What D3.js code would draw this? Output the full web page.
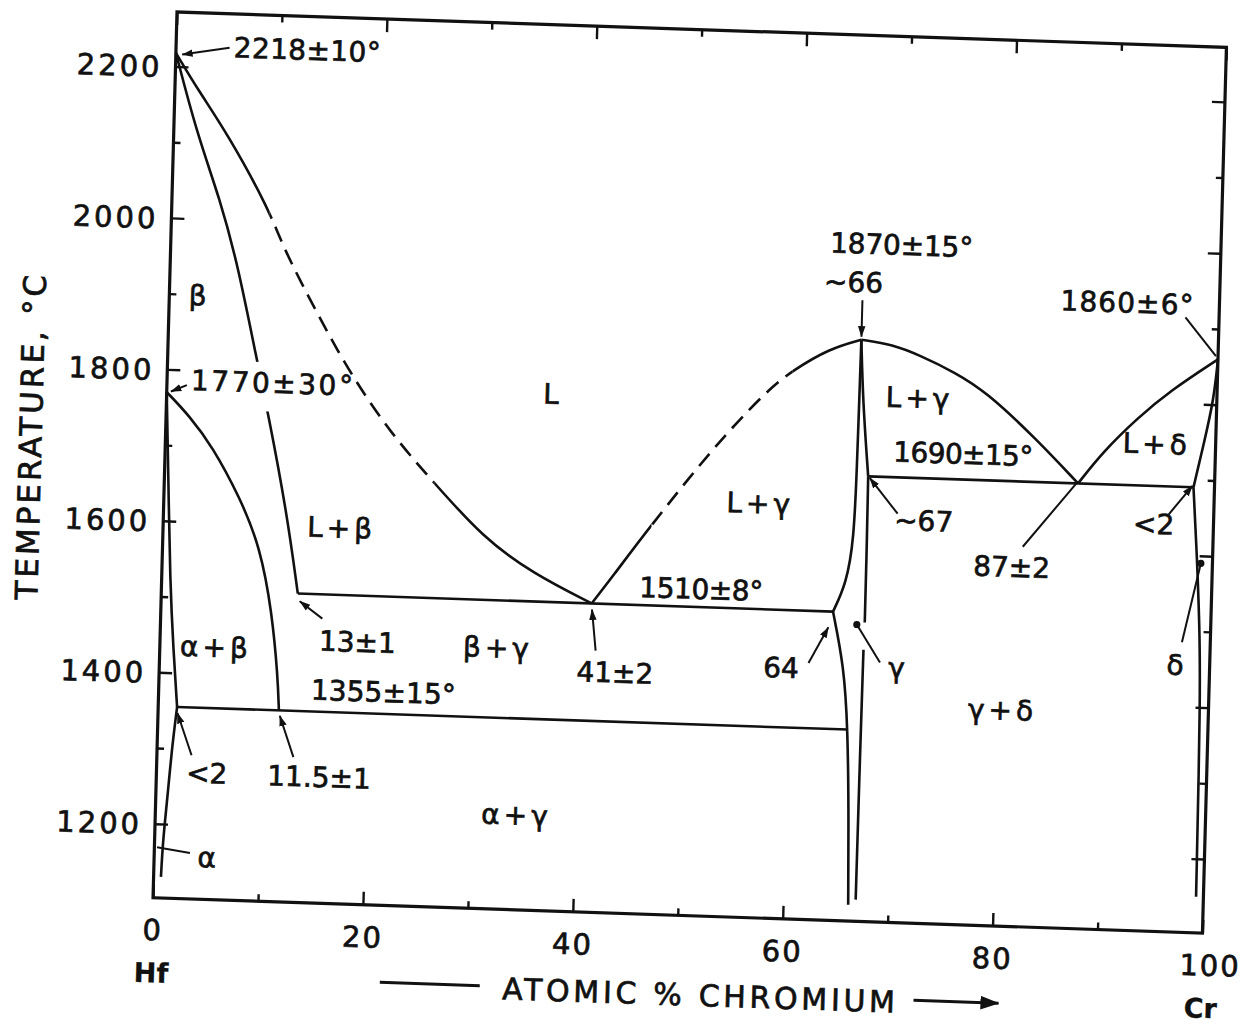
<!DOCTYPE html>
<html>
<head>
<meta charset="utf-8">
<script src="https://cdn.jsdelivr.net/npm/d3@7"></script>
<style>
  html, body { margin: 0; padding: 0; background: #fff; }
  svg { display: block; }
  text { font-family: "DejaVu Sans", "Liberation Sans", sans-serif; fill: #111; stroke: #111; stroke-width: 0.7px; }
</style>
</head>
<body>
<svg id="chart" width="1252" height="1026"></svg>
<script>
// ---------------- Hf–Cr phase diagram ----------------
// axis ticks
const compTicks = [0, 20, 40, 60, 80, 100];
const compMinorTicks = [10, 30, 50, 70, 90];
const tempTicks = [1200, 1400, 1600, 1800, 2000, 2200];
const tempMinorTicks = [1300, 1500, 1700, 1900, 2100];
const endMembers = [{ name: "Hf", c: 0 }, { name: "Cr", c: 100 }];

// phase boundaries as [atomic % Cr, temperature °C]
const liquidusHf = [[0, 2218], [2.3, 2168], [5.1, 2114], [9.3, 2015], [10.7, 1966], [14.1, 1881],
  [17.4, 1803], [21.4, 1726], [25.7, 1662], [30.5, 1592], [35.3, 1547], [41, 1510]];
const liquidusGammaLeft = [[41, 1510], [42.9, 1546], [46.1, 1609], [52.1, 1720], [57.1, 1798],
  [59.5, 1826], [63, 1857], [66, 1870]];
const liquidusGammaRight = [[66, 1870], [69, 1865], [71.6, 1852], [75, 1831], [78, 1807],
  [82.9, 1747], [87, 1690]];
const liquidusCr = [[87, 1690], [89.3, 1733], [92.5, 1779], [95.5, 1816], [100, 1860]];
const solidusBeta = [[0, 2218], [2.2, 2113], [4.6, 2026], [6.5, 1938], [8.5, 1816], [9.7, 1747],
  [11.75, 1616], [13, 1510]];
const betaTransus = [[0, 1770], [2.2, 1740], [4.5, 1700], [7.2, 1635], [9.3, 1570], [10.6, 1483],
  [11.3, 1400], [11.5, 1355]];
const alphaBetaBoundary = [[0, 1770], [0.4, 1650], [0.8, 1522], [1.3, 1430], [1.8, 1355]];
const alphaSolvus = [[1.8, 1355], [1.4, 1298], [1.1, 1232], [0.8, 1179], [0.7, 1130]];
const gammaSolidusLeft = [[66, 1870], [65.95, 1780], [65.9, 1700], [65.8, 1605], [65.2, 1548], [64, 1510]];
const gammaSolvusLeft = [[64, 1510], [65.2, 1437], [65.7, 1355], [66.0, 1250], [66.2, 1124]];
const gammaSolidusRight = [[66, 1870], [66.3, 1790], [67, 1690]];
const gammaSolvusRightUpper = [[67, 1690], [67.05, 1600], [67.05, 1497]];
const gammaSolvusRightLower = [[67.0, 1461], [66.95, 1350], [66.9, 1131]];
const deltaSolidus = [[100, 1860], [99.7, 1806], [98.9, 1750], [98, 1690]];
const deltaSolvus = [[98, 1690], [98.5, 1600], [98.9, 1515], [99.2, 1420], [99.3, 1150]];

// invariant (tie) lines
const tieLines = [
  [[1.8, 1355], [65.7, 1355]],
  [[13, 1510], [64, 1510]],
  [[67, 1690], [98, 1690]]
];

// composition ranges where the liquidus is only estimated (dashed)
const liquidusHfDashed = [[9.3, 25.7]];
const liquidusGammaDashed = [[46.5, 59.5]];
// temperature band where the β solidus is interrupted by its label
const solidusBetaBreak = [1749, 1814];

// ---------------- layout ----------------
const W = 1050, H = 886;
const x = d3.scaleLinear().domain([0, 100]).range([0, W]);
const y = d3.scaleLinear().domain([1200, 2200]).range([812, 54.5]);

const svg = d3.select("#chart");
const defs = svg.append("defs");

defs.append("marker").attr("id", "arrow")
  .attr("viewBox", "0 0 10 10").attr("refX", 9.5).attr("refY", 5)
  .attr("markerWidth", 11).attr("markerHeight", 11)
  .attr("markerUnits", "userSpaceOnUse").attr("orient", "auto")
  .append("path").attr("d", "M0,1.6 L10,5 L0,8.4 Z").attr("fill", "#111");

defs.append("marker").attr("id", "arrowBig")
  .attr("viewBox", "0 0 10 10").attr("refX", 9.5).attr("refY", 5)
  .attr("markerWidth", 19).attr("markerHeight", 19)
  .attr("markerUnits", "userSpaceOnUse").attr("orient", "auto")
  .append("path").attr("d", "M0,1.4 L10,5 L0,8.6 Z").attr("fill", "#111");

// the plot is slightly skewed on the sheet
const g = svg.append("g")
  .attr("transform", "matrix(0.99943,0.03368,-0.02705,0.99963,177,12)");

const line = d3.line()
  .x(d => x(d[0])).y(d => y(d[1]))
  .curve(d3.curveBasis);

const ink = "#111";
const lw = 2.6;

// ---------------- axes ----------------
function styleAxis(sel) {
  sel.select(".domain").remove();
  sel.selectAll(".tick line").attr("stroke", ink).attr("stroke-width", 2.4);
}

const axisLeftMajor = g.append("g")
  .call(d3.axisLeft(y).tickValues(tempTicks).tickSize(-13).tickPadding(13).tickFormat(d3.format("d")))
  .call(styleAxis);
axisLeftMajor.attr("font-size", 29).attr("font-family", null);
axisLeftMajor.selectAll("text").attr("dy", "0.36em").attr("letter-spacing", 3);

g.append("g").call(d3.axisLeft(y).tickValues(tempMinorTicks).tickSize(-7).tickFormat("")).call(styleAxis);
g.append("g").attr("transform", `translate(${W},0)`)
  .call(d3.axisRight(y).tickValues(tempTicks).tickSize(-13).tickFormat("")).call(styleAxis);
g.append("g").attr("transform", `translate(${W},0)`)
  .call(d3.axisRight(y).tickValues(tempMinorTicks).tickSize(-7).tickFormat("")).call(styleAxis);

const axisBottomMajor = g.append("g").attr("transform", `translate(0,${H})`)
  .call(d3.axisBottom(x).tickValues(compTicks).tickSize(-13).tickPadding(0).tickFormat(d3.format("d")))
  .call(styleAxis);
axisBottomMajor.attr("font-size", 29).attr("font-family", null);
axisBottomMajor.selectAll("text").attr("y", 32).attr("dy", "0.36em").attr("letter-spacing", 2)
  .attr("dx", d => d === 100 ? 8 : 0);

g.append("g").attr("transform", `translate(0,${H})`)
  .call(d3.axisBottom(x).tickValues(compMinorTicks).tickSize(-7).tickFormat("")).call(styleAxis);
g.append("g")
  .call(d3.axisTop(x).tickValues(compTicks).tickSize(-13).tickFormat("")).call(styleAxis);
g.append("g")
  .call(d3.axisTop(x).tickValues(compMinorTicks).tickSize(-7).tickFormat("")).call(styleAxis);

// frame
g.append("rect").attr("x", 0).attr("y", 0).attr("width", W).attr("height", H)
  .attr("fill", "none").attr("stroke", ink).attr("stroke-width", 3.2);

// end-member names under the axis
g.selectAll(".end").data(endMembers).enter().append("text")
  .attr("x", d => x(d.c)).attr("y", 961).attr("dy", "0.36em")
  .attr("text-anchor", "middle").attr("font-size", 27).attr("font-weight", "bold")
  .style("stroke-width", "0.3px")
  .text(d => d.name);

// axis titles
g.append("text")
  .attr("transform", "translate(-135,430) rotate(-90)")
  .attr("text-anchor", "middle").attr("dy", "0.36em")
  .attr("font-size", 31).attr("textLength", 325).attr("lengthAdjust", "spacing")
  .text("TEMPERATURE, °C");

g.append("text")
  .attr("x", 548).attr("y", 965).attr("dy", "0.36em").attr("text-anchor", "middle")
  .attr("font-size", 30).attr("textLength", 393).attr("lengthAdjust", "spacing")
  .text("ATOMIC % CHROMIUM");
g.append("line").attr("x1", 229).attr("x2", 329).attr("y1", 963).attr("y2", 963)
  .attr("stroke", ink).attr("stroke-width", 3);
g.append("line").attr("x1", 763).attr("x2", 848).attr("y1", 963).attr("y2", 963)
  .attr("stroke", ink).attr("stroke-width", 3).attr("marker-end", "url(#arrowBig)");

// ---------------- phase boundaries ----------------
const lines = g.append("g").attr("fill", "none").attr("stroke", ink)
  .attr("stroke-width", lw).attr("stroke-linejoin", "round");

let clipId = 0;
function clipX(ranges) {
  const id = "clip" + (clipId++);
  const cp = defs.append("clipPath").attr("id", id);
  ranges.forEach(r => cp.append("rect")
    .attr("x", x(r[0])).attr("width", x(r[1]) - x(r[0]))
    .attr("y", -50).attr("height", H + 100));
  return "url(#" + id + ")";
}
function clipOutsideT(band) {
  const id = "clip" + (clipId++);
  const cp = defs.append("clipPath").attr("id", id);
  cp.append("rect").attr("x", -50).attr("width", W + 100)
    .attr("y", -50).attr("height", y(band[1]) + 50);
  cp.append("rect").attr("x", -50).attr("width", W + 100)
    .attr("y", y(band[0])).attr("height", H + 50 - y(band[0]));
  return "url(#" + id + ")";
}

// a curve that is solid except over the given composition ranges, where it is dashed
function partlyDashed(data, dashed) {
  const solidRanges = [];
  let start = -10;
  dashed.forEach(r => { solidRanges.push([start, r[0]]); start = r[1]; });
  solidRanges.push([start, 110]);
  lines.append("path").attr("d", line(data)).attr("clip-path", clipX(solidRanges));
  lines.append("path").attr("d", line(data)).attr("clip-path", clipX(dashed))
    .attr("stroke-dasharray", "16,9");
}

partlyDashed(liquidusHf, liquidusHfDashed);
partlyDashed(liquidusGammaLeft, liquidusGammaDashed);

lines.append("path").attr("d", line(solidusBeta)).attr("clip-path", clipOutsideT(solidusBetaBreak));

[liquidusGammaRight, liquidusCr, betaTransus, alphaBetaBoundary, alphaSolvus,
  gammaSolidusLeft, gammaSolvusLeft, gammaSolidusRight, gammaSolvusRightUpper,
  gammaSolvusRightLower, deltaSolidus, deltaSolvus]
  .forEach(d => lines.append("path").attr("d", line(d)));

tieLines.forEach(d => lines.append("path").attr("d", d3.line().x(p => x(p[0])).y(p => y(p[1]))(d)));

// ---------------- annotations ----------------
const leaders = [
  { from: [5.1, 2227], to: [0.6, 2216], arrow: true },
  { from: [1.9, 1780], to: [0.4, 1771], arrow: true },
  { from: [15.4, 1478], to: [13.2, 1500], arrow: true },
  { from: [41.5, 1448], to: [41.05, 1502], arrow: true },
  { from: [61.8, 1441], to: [63.6, 1489], arrow: true },
  { from: [68.6, 1445], to: [66.3, 1494], dot: true },
  { from: [13.0, 1294], to: [11.6, 1348], arrow: true },
  { from: [3.3, 1292], to: [1.85, 1347], arrow: true },
  { from: [3.4, 1163], to: [0.25, 1169] },
  { from: [66, 1922], to: [66, 1874], arrow: true },
  { from: [96.8, 1914], to: [99.8, 1864] },
  { from: [69.9, 1642], to: [67.15, 1688], arrow: true },
  { from: [81.9, 1604], to: [86.9, 1691] },
  { from: [95.7, 1653], to: [97.9, 1692], arrow: true },
  { from: [97.3, 1485], to: [98.9, 1590], dot: true }
];

const lead = g.append("g").attr("stroke", ink).attr("stroke-width", 2);
leaders.forEach(l => {
  const ln = lead.append("line")
    .attr("x1", x(l.from[0])).attr("y1", y(l.from[1]))
    .attr("x2", x(l.to[0])).attr("y2", y(l.to[1]));
  if (l.arrow) ln.attr("marker-end", "url(#arrow)");
  if (l.dot) lead.append("circle").attr("cx", x(l.to[0])).attr("cy", y(l.to[1]))
    .attr("r", 3.6).attr("fill", ink).attr("stroke", "none");
});

// value labels; the longer ones are set to their lettered widths
const valueLabels = [
  { text: "2218±10°", c: 12.5, t: 2228, w: 147 },
  { text: "1770±30°", c: 10.0, t: 1787, w: 162 },
  { text: "13±1", c: 18.8, t: 1449 },
  { text: "1355±15°", c: 21.4, t: 1384, w: 145 },
  { text: "<2", c: 4.8, t: 1269 },
  { text: "11.5±1", c: 15.5, t: 1269 },
  { text: "1510±8°", c: 51.4, t: 1534, w: 124 },
  { text: "41±2", c: 43.4, t: 1420 },
  { text: "64", c: 59.2, t: 1434 },
  { text: "1870±15°", c: 69.6, t: 1997, w: 143 },
  { text: "~66", c: 65.1, t: 1946 },
  { text: "1860±6°", c: 91.2, t: 1931, w: 133 },
  { text: "1690±15°", c: 76.0, t: 1724, w: 140 },
  { text: "~67", c: 72.4, t: 1634 },
  { text: "87±2", c: 80.9, t: 1577 },
  { text: "<2", c: 94.3, t: 1640 }
];

const regionLabels = [
  { text: "β", c: 2.7, t: 1899 },
  { text: "L", c: 36.6, t: 1785 },
  { text: "L+β", c: 17.0, t: 1599 },
  { text: "α+β", c: 5.35, t: 1436 },
  { text: "β+γ", c: 32.2, t: 1448 },
  { text: "α+γ", c: 34.4, t: 1228 },
  { text: "α", c: 5.0, t: 1158 },
  { text: "L+γ", c: 56.8, t: 1650 },
  { text: "L+γ", c: 71.7, t: 1796 },
  { text: "L+δ", c: 94.4, t: 1746 },
  { text: "γ", c: 70.2, t: 1439 },
  { text: "γ+δ", c: 80.4, t: 1388 },
  { text: "δ", c: 96.7, t: 1455 }
];

const labels = g.append("g").attr("font-size", 28).attr("text-anchor", "middle");
labels.selectAll("text.v").data(valueLabels).enter().append("text")
  .attr("class", "v")
  .attr("x", d => x(d.c)).attr("y", d => y(d.t)).attr("dy", "0.36em")
  .attr("textLength", d => d.w || null)
  .attr("lengthAdjust", d => d.w ? "spacing" : null)
  .text(d => d.text);

labels.selectAll("text.r").data(regionLabels).enter().append("text")
  .attr("class", "r")
  .attr("x", d => x(d.c)).attr("y", d => y(d.t)).attr("dy", "0.36em")
  .attr("letter-spacing", d => d.text.length > 1 ? 4 : 0)
  .text(d => d.text);
</script>
</body>
</html>
